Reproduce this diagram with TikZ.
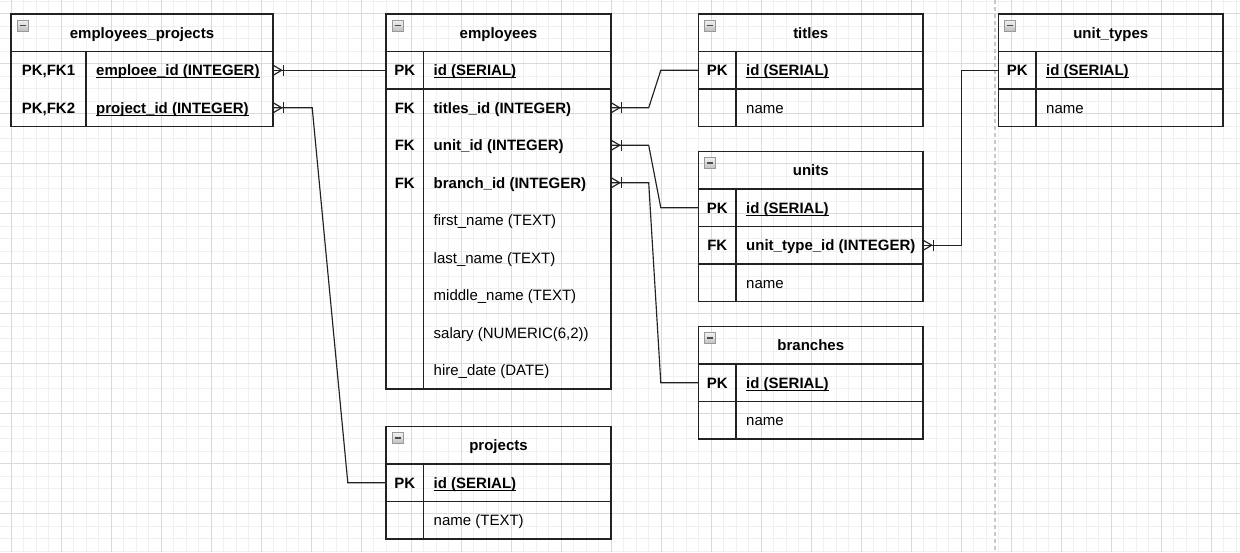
\documentclass[tikz,border=0pt]{standalone}
\usepackage{fontspec}
\setmainfont{Liberation Sans}
\definecolor{gridmin}{HTML}{F0F0F0}
\definecolor{gridmaj}{HTML}{DADADA}
\definecolor{border}{HTML}{222222}
\definecolor{pagebrk}{HTML}{C8C8C8}
\newcommand\ulx[1]{\setbox0=\hbox{#1}\rlap{\vrule height -1.4pt depth 2.6pt width \wd0}\box0}
\tikzset{
  tline/.style={draw=border, line width=1.3pt},
  conn/.style={draw=border, line width=1.15pt},
  rowbox/.style={inner sep=0pt, minimum height=37.5pt},
  keytxt/.style={font=\bfseries, inner sep=0pt, text height=10.75pt, text depth=0pt, anchor=center},
  ttl/.style={font=\bfseries, inner sep=0pt, text height=10.75pt, text depth=0pt, anchor=center},
  fldb/.style={font=\bfseries, inner sep=0pt, text height=10.75pt, text depth=0pt, anchor=west},
  fld/.style={inner sep=0pt, text height=10.75pt, text depth=0pt, anchor=west},
  icon/.style={draw=gray!80, line width=0.8pt, top color=gray!10, bottom color=gray!50},
  iconbar/.style={draw=black!70, line width=1.6pt},
  crow/.pic={\draw[conn] (0,-5) -- (8.5,0) -- (0,5); \draw[conn] (10,-5.5) -- (10,5.5);}
}
\begin{document}
\fontsize{15}{18}\selectfont
\begin{tikzpicture}[x=1pt,y=-1pt]
\useasboundingbox (0,0) rectangle (1240,552);
\fill[white] (0,0) rectangle (1240,552);
% grid
\foreach \gx in {-1.5,11,...,1241} \draw[gridmin, line width=1pt] (\gx,0) -- (\gx,552);
\foreach \gy in {1,13.5,...,553} \draw[gridmin, line width=1pt] (0,\gy) -- (1240,\gy);
\foreach \gx in {11,61,...,1211} \draw[gridmaj, line width=1pt] (\gx,0) -- (\gx,552);
\foreach \gy in {13.5,63.5,...,513.5} \draw[gridmaj, line width=1pt] (0,\gy) -- (1240,\gy);
\draw[pagebrk, line width=1.5pt, dash pattern=on 4pt off 3pt] (995,0) -- (995,552);

% ===== employees_projects =====
\draw[tline] (11,14) rectangle (273,126.5);
\draw[tline] (11,51.5) -- (273,51.5);
\draw[tline] (86,51.5) -- (86,126.5);
\draw[icon] (17,20) rectangle (28,31); \draw[iconbar] (19.5,25.5) -- (25.5,25.5);
\node[ttl] (ep-t) at (142,32.75) {employees\_projects};
\node[rowbox, minimum width=262pt] (ep-r1) at (142,70.25) {};
\node[rowbox, minimum width=262pt] (ep-r2) at (142,107.75) {};
\node[keytxt] (ep-k1) at (48.5,70.25) {PK,FK1};
\node[keytxt] (ep-k2) at (48.5,107.75) {PK,FK2};
\node[fldb] (ep-f1) at (96,70.25) {\ulx{emploee\_id (INTEGER)}};
\node[fldb] (ep-f2) at (96,107.75) {\ulx{project\_id (INTEGER)}};

% ===== employees =====
\draw[tline] (386,14) rectangle (611,389);
\draw[tline] (386,51.5) -- (611,51.5);
\draw[tline] (386,89) -- (611,89);
\draw[tline] (423.5,51.5) -- (423.5,389);
\draw[icon] (392,20) rectangle (403,31); \draw[iconbar] (394.5,25.5) -- (400.5,25.5);
\node[ttl] (emp-t) at (498.5,32.75) {employees};
\node[rowbox, minimum width=225pt] (emp-r1) at (498.5,70.25) {};
\node[rowbox, minimum width=225pt] (emp-r2) at (498.5,107.75) {};
\node[rowbox, minimum width=225pt] (emp-r3) at (498.5,145.25) {};
\node[rowbox, minimum width=225pt] (emp-r4) at (498.5,182.75) {};
\node[keytxt] (emp-k1) at (404.75,70.25) {PK};
\node[keytxt] (emp-k2) at (404.75,107.75) {FK};
\node[keytxt] (emp-k3) at (404.75,145.25) {FK};
\node[keytxt] (emp-k4) at (404.75,182.75) {FK};
\node[fldb] (emp-f1) at (433.5,70.25) {\ulx{id (SERIAL)}};
\node[fldb] (emp-f2) at (433.5,107.75) {titles\_id (INTEGER)};
\node[fldb] (emp-f3) at (433.5,145.25) {unit\_id (INTEGER)};
\node[fldb] (emp-f4) at (433.5,182.75) {branch\_id (INTEGER)};
\node[fld] (emp-f5) at (433.5,220.25) {first\_name (TEXT)};
\node[fld] (emp-f6) at (433.5,257.75) {last\_name (TEXT)};
\node[fld] (emp-f7) at (433.5,295.25) {middle\_name (TEXT)};
\node[fld] (emp-f8) at (433.5,332.75) {salary (NUMERIC(6,2))};
\node[fld] (emp-f9) at (433.5,370.25) {hire\_date (DATE)};

% ===== titles =====
\draw[tline] (698.5,14) rectangle (923,126.5);
\draw[tline] (698.5,51.5) -- (923,51.5);
\draw[tline] (698.5,89) -- (923,89);
\draw[tline] (736,51.5) -- (736,126.5);
\draw[icon] (704.5,20) rectangle (715.5,31); \draw[iconbar] (707,25.5) -- (713,25.5);
\node[ttl] (tit-t) at (810.75,32.75) {titles};
\node[rowbox, minimum width=224.5pt] (tit-r1) at (810.75,70.25) {};
\node[keytxt] (tit-k1) at (717.25,70.25) {PK};
\node[fldb] (tit-f1) at (746,70.25) {\ulx{id (SERIAL)}};
\node[fld] (tit-f2) at (746,107.75) {name};

% ===== units =====
\draw[tline] (698.5,151.5) rectangle (923,301.5);
\draw[tline] (698.5,189) -- (923,189);
\draw[tline] (698.5,226.5) -- (923,226.5);
\draw[tline] (698.5,264) -- (923,264);
\draw[tline] (736,189) -- (736,301.5);
\draw[icon] (704.5,157.5) rectangle (715.5,168.5); \draw[iconbar] (707,163) -- (713,163);
\node[ttl] (uni-t) at (810.75,170.25) {units};
\node[rowbox, minimum width=224.5pt] (uni-r1) at (810.75,207.75) {};
\node[rowbox, minimum width=224.5pt] (uni-r2) at (810.75,245.25) {};
\node[keytxt] (uni-k1) at (717.25,207.75) {PK};
\node[keytxt] (uni-k2) at (717.25,245.25) {FK};
\node[fldb] (uni-f1) at (746,207.75) {\ulx{id (SERIAL)}};
\node[fldb] (uni-f2) at (746,245.25) {unit\_type\_id (INTEGER)};
\node[fld] (uni-f3) at (746,282.75) {name};

% ===== branches =====
\draw[tline] (698.5,326.5) rectangle (923,439);
\draw[tline] (698.5,364) -- (923,364);
\draw[tline] (698.5,401.5) -- (923,401.5);
\draw[tline] (736,364) -- (736,439);
\draw[icon] (704.5,332.5) rectangle (715.5,343.5); \draw[iconbar] (707,338) -- (713,338);
\node[ttl] (br-t) at (810.75,345.25) {branches};
\node[rowbox, minimum width=224.5pt] (br-r1) at (810.75,382.75) {};
\node[keytxt] (br-k1) at (717.25,382.75) {PK};
\node[fldb] (br-f1) at (746,382.75) {\ulx{id (SERIAL)}};
\node[fld] (br-f2) at (746,420.25) {name};

% ===== unit_types =====
\draw[tline] (998.5,14) rectangle (1223,126.5);
\draw[tline] (998.5,51.5) -- (1223,51.5);
\draw[tline] (998.5,89) -- (1223,89);
\draw[tline] (1036,51.5) -- (1036,126.5);
\draw[icon] (1004.5,20) rectangle (1015.5,31); \draw[iconbar] (1007,25.5) -- (1013,25.5);
\node[ttl] (ut-t) at (1110.75,32.75) {unit\_types};
\node[rowbox, minimum width=224.5pt] (ut-r1) at (1110.75,70.25) {};
\node[keytxt] (ut-k1) at (1017.25,70.25) {PK};
\node[fldb] (ut-f1) at (1046,70.25) {\ulx{id (SERIAL)}};
\node[fld] (ut-f2) at (1046,107.75) {name};

% ===== projects =====
\draw[tline] (386,426.5) rectangle (611,539);
\draw[tline] (386,464) -- (611,464);
\draw[tline] (386,501.5) -- (611,501.5);
\draw[tline] (423.5,464) -- (423.5,539);
\draw[icon] (392,432.5) rectangle (403,443.5); \draw[iconbar] (394.5,438) -- (400.5,438);
\node[ttl] (pr-t) at (498.5,445.25) {projects};
\node[rowbox, minimum width=225pt] (pr-r1) at (498.5,482.75) {};
\node[keytxt] (pr-k1) at (404.75,482.75) {PK};
\node[fldb] (pr-f1) at (433.5,482.75) {\ulx{id (SERIAL)}};
\node[fld] (pr-f2) at (433.5,520.25) {name (TEXT)};

% ===== connectors =====
\draw[conn] (ep-r1.east) -- (emp-r1.west);
\pic at (ep-r1.east) {crow};
\draw[conn] (ep-r2.east) -- ++(39,0) -- ([xshift=-38pt]pr-r1.west) -- (pr-r1.west);
\pic at (ep-r2.east) {crow};
\draw[conn] (emp-r2.east) -- ++(37.5,0) -- ([xshift=-37.5pt]tit-r1.west) -- (tit-r1.west);
\pic at (emp-r2.east) {crow};
\draw[conn] (emp-r3.east) -- ++(37.5,0) -- ([xshift=-37.5pt]uni-r1.west) -- (uni-r1.west);
\pic at (emp-r3.east) {crow};
\draw[conn] (emp-r4.east) -- ++(37.5,0) -- ([xshift=-37.5pt]br-r1.west) -- (br-r1.west);
\pic at (emp-r4.east) {crow};
\draw[conn] (uni-r2.east) -- ++(38,0) |- (ut-r1.west);
\pic at (uni-r2.east) {crow};
\end{tikzpicture}
\end{document}
